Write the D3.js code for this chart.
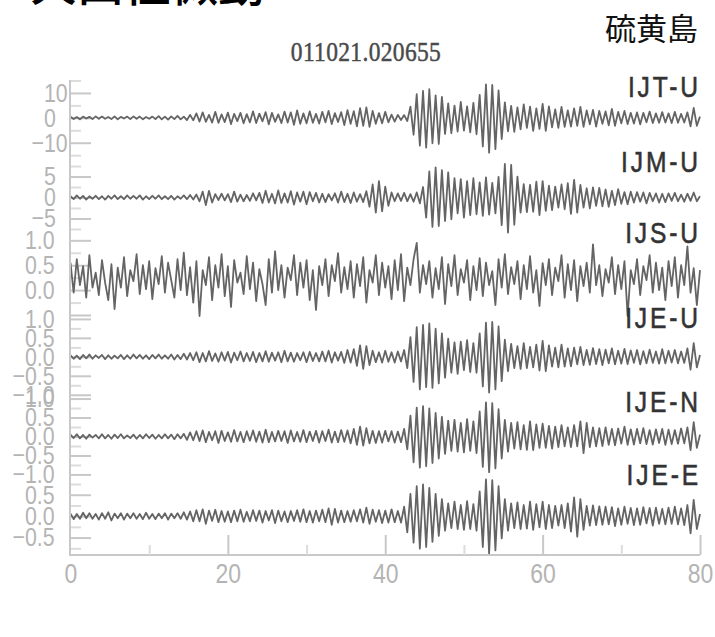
<!DOCTYPE html>
<html><head><meta charset="utf-8">
<script src="https://cdn.jsdelivr.net/npm/d3@7"></script>
<style>
html,body{margin:0;padding:0;background:#fff;}
svg{display:block;}
</style></head>
<body>
<svg id="chart" width="715" height="637"></svg>
<script>
// ---- data -------------------------------------------------------------
const pageTitle = "火山性微動";
const siteName = "硫黄島";
const eventId = "011021.020655";
const stations = ["IJT-U", "IJM-U", "IJS-U", "IJE-U", "IJE-N", "IJE-E"];
const sampleStep = 0.4;            // seconds between samples
const timeLabels = [0, 20, 40, 60, 80];
const timeMinor = [10, 30, 50, 70];

// vertical-axis tick labels for each trace
const ijtUTicks = [10, 0, -10];
const ijmUTicks = [5, 0, -5];
const ijsUTicks = [1.0, 0.5, 0.0];
const ijeUTicks = [1.0, 0.5, 0.0, -0.5, -1.0];
const ijeNTicks = [1.0, 0.5, 0.0, -0.5, -1.0];
const ijeETicks = [0.5, 0.0, -0.5];

// waveform samples, 0 – 80 s
const ijtU = [
 0.4,-0.5,0.3,-0.6,0.5,-0.3,0.4,-0.5,0.6,-0.4,
 0.5,-0.4,0.3,-0.5,0.6,-0.6,0.4,-0.3,0.5,-0.5,
 0.6,-0.4,0.5,-0.6,0.3,-0.4,0.5,-0.5,0.7,-0.6,
 0.5,-0.7,0.6,-0.5,0.8,-0.6,0.5,-0.9,1.2,-1.0,
 1.8,-1.5,2.2,-1.6,1.2,-1.9,2.4,-2.0,1.4,-1.7,
 2.1,-2.5,1.6,-1.3,2.0,-2.2,1.5,-1.8,2.6,-2.1,
 1.7,-1.4,2.3,-2.6,2.0,-1.6,1.4,-2.1,2.5,-1.9,
 2.2,-2.8,3.0,-2.4,1.8,-2.2,2.6,-2.0,1.6,-2.3,
 2.4,-1.8,2.8,-2.5,1.9,-1.7,2.3,-2.9,3.1,-2.4,
 2.7,-3.4,3.9,-3.2,4.2,-3.6,2.8,-2.4,1.9,-2.2,
 2.4,-1.8,1.3,-1.5,1.2,-0.9,1.1,-1.3,4.5,-6.8,
 9.5,-11.2,10.8,-12.0,11.5,-10.2,9.0,-10.5,8.4,-6.5,
 5.8,-6.2,4.9,-5.5,6.4,-5.1,4.6,-5.8,6.0,-6.6,
 9.2,-11.5,13.4,-14.0,13.2,-12.6,11.0,-8.5,6.2,-5.4,
 4.8,-5.6,4.2,-4.6,5.4,-4.0,4.5,-5.2,3.8,-4.4,
 5.6,-5.2,4.6,-3.8,3.4,-4.0,4.4,-3.6,3.0,-3.5,
 3.8,-3.2,4.4,-3.6,3.0,-2.6,3.2,-3.5,2.8,-2.4,
 2.6,-3.0,3.6,-3.2,2.4,-2.2,2.8,-2.5,2.0,-2.3,
 2.2,-2.6,2.0,-1.8,2.5,-2.1,1.8,-2.0,2.3,-1.9,
 1.8,-2.1,2.4,-2.0,1.6,-1.9,2.2,-3.4,4.0,-3.2,
 0.5
];
const ijmU = [
 0.3,-0.4,0.5,-0.3,0.4,-0.5,0.3,-0.3,0.4,-0.4,
 0.3,-0.5,0.4,-0.3,0.5,-0.4,0.3,-0.4,0.5,-0.3,
 0.4,-0.3,0.5,-0.5,0.3,-0.4,0.4,-0.3,0.5,-0.4,
 0.3,-0.4,0.4,-0.5,0.3,-0.3,0.5,-0.4,0.6,-0.5,
 0.7,-0.9,1.4,-1.8,1.6,-1.2,0.8,-0.6,0.9,-0.7,
 0.8,-1.1,1.4,-1.0,0.7,-0.9,0.6,-0.8,1.0,-0.7,
 1.1,-1.3,1.6,-1.2,0.9,-1.4,1.7,-1.3,1.0,-1.2,
 1.5,-1.7,1.2,-1.0,1.4,-1.6,1.3,-0.9,1.1,-1.2,
 0.9,-1.1,0.8,-0.7,1.0,-1.2,1.4,-1.1,0.9,-1.3,
 1.2,-1.0,0.8,-1.1,1.5,-2.2,3.1,-3.6,3.9,-3.3,
 2.6,-2.0,1.2,-0.9,1.0,-0.8,1.1,-0.9,0.8,-1.0,
 1.2,-1.4,2.5,-4.8,6.2,-7.0,7.2,-6.8,6.5,-5.6,
 6.0,-5.2,4.6,-3.8,4.4,-4.8,3.9,-4.2,4.6,-4.0,
 3.6,-4.4,4.8,-4.1,3.5,-3.8,4.9,-6.6,8.0,-8.4,
 7.8,-6.5,5.0,-3.6,3.2,-3.5,3.0,-3.4,3.8,-4.2,
 3.9,-3.2,2.8,-3.0,2.6,-2.4,3.1,-2.8,3.4,-3.9,
 4.2,-3.6,3.0,-2.4,2.2,-2.6,2.4,-2.0,2.3,-2.1,
 1.9,-2.2,1.6,-1.8,2.0,-1.5,1.3,-1.6,1.4,-1.2,
 1.3,-1.0,1.2,-1.4,1.1,-0.9,1.0,-1.2,0.9,-1.1,
 1.0,-0.8,1.1,-0.9,0.7,-1.0,0.9,-0.8,1.2,-0.9,
 0.3
];
const ijsU = [
 0.55,-0.05,0.62,0.10,0.48,-0.15,0.70,0.05,0.35,-0.10,
 0.60,0.15,-0.20,0.52,-0.38,0.45,0.05,0.66,-0.12,0.40,
 0.18,0.72,-0.08,0.50,0.02,0.58,-0.18,0.44,0.12,0.68,
 -0.05,0.55,0.20,-0.15,0.62,0.00,0.75,-0.10,0.46,-0.25,
 0.58,-0.52,0.40,0.10,0.66,-0.20,0.50,0.05,0.72,-0.12,
 0.48,-0.34,0.60,0.15,0.35,-0.08,0.68,0.02,0.55,-0.22,
 0.42,0.12,-0.30,0.62,-0.05,0.78,0.00,0.50,-0.15,0.45,
 0.20,0.70,-0.10,0.55,0.05,0.60,-0.20,0.40,-0.40,0.48,
 0.10,0.62,-0.12,0.50,0.18,0.74,-0.05,0.46,0.02,0.58,
 -0.15,0.52,0.08,0.66,-0.25,0.40,0.15,0.70,-0.10,0.55,
 0.05,0.48,-0.18,0.60,0.00,0.72,-0.22,0.45,0.10,0.62,
 0.95,-0.05,0.50,0.12,0.58,-0.15,0.44,0.02,0.66,-0.28,
 0.52,0.08,0.70,-0.10,0.42,0.15,0.60,-0.20,0.48,0.00,
 0.64,-0.12,0.55,0.10,0.38,-0.30,0.62,0.05,0.72,-0.08,
 0.46,0.12,0.58,-0.18,0.50,0.02,0.68,-0.05,0.40,-0.32,
 0.54,0.10,0.62,-0.10,0.45,0.18,0.70,-0.15,0.52,0.00,
 0.60,-0.22,0.48,0.08,0.55,-0.05,0.92,0.10,0.50,-0.12,
 0.42,0.15,0.66,-0.08,0.50,0.02,0.58,-0.52,0.40,0.12,
 0.62,-0.10,0.48,0.20,0.70,-0.05,0.55,0.00,0.45,-0.20,
 0.58,0.08,0.66,-0.15,0.50,0.10,0.88,-0.05,0.44,-0.30,
 0.40
];
const ijeU = [
 0.04,-0.05,0.03,-0.06,0.05,-0.04,0.06,-0.05,0.04,-0.03,
 0.05,-0.06,0.04,-0.05,0.03,-0.04,0.05,-0.06,0.04,-0.05,
 0.06,-0.04,0.05,-0.05,0.04,-0.06,0.05,-0.04,0.06,-0.05,
 0.04,-0.05,0.06,-0.07,0.05,-0.06,0.08,-0.07,0.10,-0.09,
 0.12,-0.14,0.10,-0.12,0.15,-0.11,0.09,-0.13,0.12,-0.10,
 0.13,-0.15,0.11,-0.09,0.14,-0.12,0.10,-0.11,0.13,-0.14,
 0.10,-0.12,0.15,-0.13,0.11,-0.10,0.12,-0.14,0.16,-0.12,
 0.11,-0.13,0.10,-0.09,0.12,-0.14,0.13,-0.11,0.10,-0.12,
 0.14,-0.12,0.16,-0.15,0.12,-0.10,0.13,-0.16,0.18,-0.15,
 0.20,-0.24,0.30,-0.32,0.28,-0.22,0.16,-0.14,0.12,-0.15,
 0.16,-0.13,0.12,-0.15,0.14,-0.12,0.18,-0.30,0.52,-0.66,
 0.78,-0.86,0.84,-0.80,0.88,-0.82,0.74,-0.70,0.62,-0.55,
 0.48,-0.42,0.38,-0.45,0.40,-0.35,0.44,-0.40,0.36,-0.42,
 0.62,-0.78,0.90,-0.94,0.92,-0.86,0.80,-0.64,0.45,-0.38,
 0.34,-0.30,0.28,-0.32,0.36,-0.30,0.26,-0.28,0.32,-0.36,
 0.42,-0.38,0.30,-0.26,0.24,-0.28,0.32,-0.26,0.22,-0.25,
 0.24,-0.20,0.26,-0.22,0.18,-0.21,0.23,-0.19,0.20,-0.22,
 0.19,-0.17,0.22,-0.20,0.16,-0.18,0.21,-0.19,0.17,-0.16,
 0.18,-0.20,0.15,-0.17,0.19,-0.16,0.14,-0.18,0.20,-0.17,
 0.16,-0.15,0.18,-0.17,0.14,-0.16,0.22,-0.34,0.36,-0.28,
 0.05
];
const ijeN = [
 0.05,-0.04,0.06,-0.05,0.04,-0.06,0.05,-0.03,0.04,-0.05,
 0.06,-0.05,0.04,-0.06,0.05,-0.04,0.06,-0.05,0.03,-0.04,
 0.05,-0.06,0.04,-0.05,0.06,-0.04,0.05,-0.06,0.04,-0.05,
 0.06,-0.05,0.05,-0.07,0.06,-0.05,0.07,-0.09,0.11,-0.10,
 0.14,-0.12,0.16,-0.15,0.12,-0.10,0.14,-0.17,0.15,-0.12,
 0.11,-0.14,0.17,-0.13,0.12,-0.15,0.14,-0.11,0.16,-0.14,
 0.13,-0.16,0.18,-0.15,0.12,-0.13,0.15,-0.12,0.14,-0.17,
 0.16,-0.13,0.12,-0.14,0.17,-0.15,0.13,-0.12,0.15,-0.16,
 0.14,-0.12,0.18,-0.16,0.13,-0.15,0.17,-0.14,0.16,-0.18,
 0.20,-0.22,0.26,-0.24,0.22,-0.18,0.15,-0.17,0.14,-0.16,
 0.15,-0.13,0.14,-0.16,0.13,-0.15,0.20,-0.34,0.55,-0.68,
 0.76,-0.82,0.80,-0.78,0.74,-0.70,0.62,-0.58,0.52,-0.46,
 0.42,-0.38,0.44,-0.40,0.36,-0.42,0.46,-0.38,0.40,-0.44,
 0.66,-0.80,0.90,-0.94,0.88,-0.84,0.72,-0.58,0.44,-0.40,
 0.36,-0.32,0.38,-0.34,0.30,-0.35,0.40,-0.36,0.32,-0.30,
 0.34,-0.30,0.28,-0.32,0.26,-0.28,0.30,-0.26,0.24,-0.28,
 0.30,-0.26,0.40,-0.44,0.36,-0.28,0.24,-0.26,0.22,-0.25,
 0.24,-0.22,0.20,-0.23,0.21,-0.19,0.26,-0.22,0.19,-0.21,
 0.20,-0.18,0.22,-0.20,0.17,-0.21,0.19,-0.17,0.20,-0.22,
 0.18,-0.20,0.17,-0.19,0.21,-0.18,0.24,-0.36,0.38,-0.30,
 0.05
];
const ijeE = [
 0.06,-0.07,0.05,-0.06,0.08,-0.05,0.07,-0.06,0.05,-0.08,
 0.07,-0.06,0.09,-0.10,0.06,-0.05,0.07,-0.08,0.06,-0.05,
 0.07,-0.06,0.05,-0.07,0.08,-0.06,0.05,-0.07,0.06,-0.05,
 0.07,-0.08,0.06,-0.05,0.07,-0.06,0.09,-0.08,0.11,-0.12,
 0.14,-0.12,0.16,-0.18,0.13,-0.11,0.15,-0.14,0.12,-0.13,
 0.11,-0.14,0.13,-0.12,0.15,-0.13,0.10,-0.12,0.14,-0.11,
 0.13,-0.15,0.12,-0.10,0.14,-0.16,0.13,-0.12,0.11,-0.14,
 0.12,-0.11,0.14,-0.13,0.16,-0.14,0.12,-0.15,0.13,-0.12,
 0.15,-0.14,0.18,-0.20,0.17,-0.15,0.13,-0.14,0.12,-0.13,
 0.14,-0.12,0.16,-0.15,0.20,-0.18,0.15,-0.13,0.14,-0.16,
 0.13,-0.15,0.16,-0.14,0.12,-0.15,0.22,-0.38,0.52,-0.62,
 0.70,-0.76,0.74,-0.72,0.66,-0.60,0.52,-0.46,0.40,-0.34,
 0.30,-0.28,0.34,-0.30,0.26,-0.32,0.35,-0.30,0.28,-0.34,
 0.58,-0.72,0.86,-0.88,0.84,-0.80,0.70,-0.52,0.40,-0.34,
 0.30,-0.28,0.32,-0.30,0.26,-0.29,0.34,-0.32,0.28,-0.26,
 0.34,-0.30,0.26,-0.28,0.24,-0.22,0.26,-0.28,0.30,-0.36,
 0.44,-0.48,0.40,-0.32,0.24,-0.22,0.25,-0.21,0.23,-0.20,
 0.22,-0.19,0.21,-0.23,0.18,-0.20,0.22,-0.18,0.19,-0.21,
 0.18,-0.20,0.21,-0.17,0.19,-0.22,0.20,-0.18,0.17,-0.19,
 0.20,-0.18,0.22,-0.19,0.18,-0.21,0.26,-0.40,0.38,-0.30,
 0.05
];

// ---- per-trace axis settings --------------------------------------------
// labelX: where the unsigned part of each value label starts
const traces = [
  {name: "IJT-U", values: ijtU, ticks: ijtUTicks, mid: 0,    half: 16,   step: 10,  fmt: d3.format("d"),   labelX: 44, nameDy: 19},
  {name: "IJM-U", values: ijmU, ticks: ijmUTicks, mid: 0,    half: 9.5,  step: 5,   fmt: d3.format("d"),   labelX: 44, nameDy: 14},
  {name: "IJS-U", values: ijsU, ticks: ijsUTicks, mid: 0.26, half: 0.8,  step: 0.5, fmt: d3.format(".1f"), labelX: 25, nameDy: 6},
  {name: "IJE-U", values: ijeU, ticks: ijeUTicks, mid: 0,    half: 1.05, step: 0.5, fmt: d3.format(".1f"), labelX: 25, nameDy: 11},
  {name: "IJE-N", values: ijeN, ticks: ijeNTicks, mid: 0,    half: 1.05, step: 0.5, fmt: d3.format(".1f"), labelX: 25, nameDy: 15},
  {name: "IJE-E", values: ijeE, ticks: ijeETicks, mid: 0,    half: 0.93, step: 0.5, fmt: d3.format(".1f"), labelX: 25, nameDy: 9}
];

// ---- drawing -------------------------------------------------------------
const sans = "'Liberation Sans', Arial, sans-serif";
const serif = "'Liberation Serif', 'Times New Roman', serif";
const cjk = "'Noto Sans CJK JP', 'Noto Sans CJK SC', sans-serif";
const squeezeK = 0.82;
const squeeze = `scale(${squeezeK},1)`;   // condensed lettering
const svg = d3.select("#chart");

const x = d3.scaleLinear().domain([0, 80]).range([70.5, 700]);
const band = d3.scaleBand().domain(stations).range([78, 556]);

// headings
svg.append("text").attr("x", 30).attr("y", 1)
  .attr("font-family", cjk).attr("font-size", 47).attr("font-weight", 500).attr("fill", "#000")
  .text(pageTitle);
svg.append("text").attr("x", 698).attr("y", 40).attr("text-anchor", "end")
  .attr("font-family", cjk).attr("font-size", 31).attr("fill", "#111")
  .text(siteName);
svg.append("g").attr("transform", "translate(366,61) scale(0.84,1)")
  .append("text").attr("text-anchor", "middle")
  .attr("font-family", serif).attr("font-size", 28).attr("letter-spacing", 0.4)
  .attr("fill", "#4a4a4a").attr("stroke", "#4a4a4a").attr("stroke-width", 0.5)
  .text(eventId);

const line = d3.line();
const axisColor = "#c8c8c8";
const minorColor = "#dcdcdc";
const minusWidth = 26 * 0.584;     // advance of "−" at the label size

traces.forEach(tr => {
  const top = band(tr.name), bottom = top + band.bandwidth();
  const lo = tr.mid - tr.half, hi = tr.mid + tr.half;
  const y = d3.scaleLinear().domain([lo, hi]).range([bottom, top]);
  const major = d3.range(Math.ceil(lo / tr.step), Math.floor(hi / tr.step) + 1).map(k => +(k * tr.step).toFixed(3));
  const minor = d3.range(Math.ceil(lo / tr.step - 0.5), Math.floor(hi / tr.step - 0.5) + 1)
    .map(k => +((k + 0.5) * tr.step).toFixed(3)).filter(v => v > lo && v < hi);

  const g = svg.append("g");
  // inward tick marks
  g.append("g").attr("transform", "translate(70,0)")
    .call(d3.axisRight(y).tickValues(minor).tickSize(11).tickFormat(""))
    .call(a => { a.select(".domain").remove(); a.selectAll("line").attr("stroke", minorColor).attr("stroke-width", 2); });
  g.append("g").attr("transform", "translate(70,0)")
    .call(d3.axisRight(y).tickValues(major).tickSize(21).tickFormat(""))
    .call(a => { a.select(".domain").remove(); a.selectAll("line").attr("stroke", axisColor).attr("stroke-width", 2); });
  // value labels: digits line up, minus sign hangs to the left
  g.append("g").attr("transform", `translate(${tr.labelX},0)`)
    .call(d3.axisLeft(y).tickValues(tr.ticks).tickSize(0).tickPadding(0).tickFormat(tr.fmt))
    .call(a => {
      a.select(".domain").remove();
      a.selectAll("text").attr("text-anchor", "start")
        .attr("x", d => d < 0 ? -minusWidth : 0).attr("transform", squeeze)
        .attr("font-family", sans).attr("font-size", 26).attr("fill", "#b4b4b4");
    });

  // waveform
  g.append("path")
    .attr("d", line(tr.values.map((v, i) => [x(i * sampleStep), y(v)])))
    .attr("fill", "none").attr("stroke", "#646464").attr("stroke-width", 1.8)
    .attr("stroke-linejoin", "round");

  // station name
  g.append("g").attr("transform", `translate(701,${top + tr.nameDy}) ${squeeze}`)
    .append("text").attr("text-anchor", "end")
    .attr("font-family", sans).attr("font-size", 30).attr("letter-spacing", 3.5)
    .attr("fill", "#333").attr("stroke", "#333").attr("stroke-width", 0.6)
    .text(tr.name);
});

// frame lines
svg.append("line").attr("x1", 70).attr("x2", 70).attr("y1", 80).attr("y2", 556)
  .attr("stroke", axisColor).attr("stroke-width", 2);
svg.append("line").attr("x1", 70).attr("x2", 700).attr("y1", 555).attr("y2", 555)
  .attr("stroke", axisColor).attr("stroke-width", 2);

// time axis
svg.append("g").attr("transform", "translate(0,555)")
  .call(d3.axisTop(x).tickValues(timeMinor).tickSize(10).tickFormat(""))
  .call(a => { a.select(".domain").remove(); a.selectAll("line").attr("stroke", minorColor).attr("stroke-width", 2); });
svg.append("g").attr("transform", "translate(0,555)")
  .call(d3.axisTop(x).tickValues(timeLabels.filter(v => v > 0)).tickSize(20).tickFormat(""))
  .call(a => { a.select(".domain").remove(); a.selectAll("line").attr("stroke", axisColor).attr("stroke-width", 2); });
svg.append("g").attr("transform", "translate(0,555)")
  .call(d3.axisBottom(x).tickValues(timeLabels).tickSize(0).tickPadding(8).tickFormat(d3.format("d")))
  .call(a => {
    a.select(".domain").remove();
    a.selectAll("text").attr("transform", squeeze)
      .attr("font-family", sans).attr("font-size", 28).attr("fill", "#b4b4b4");
  });
</script>
</body></html>
